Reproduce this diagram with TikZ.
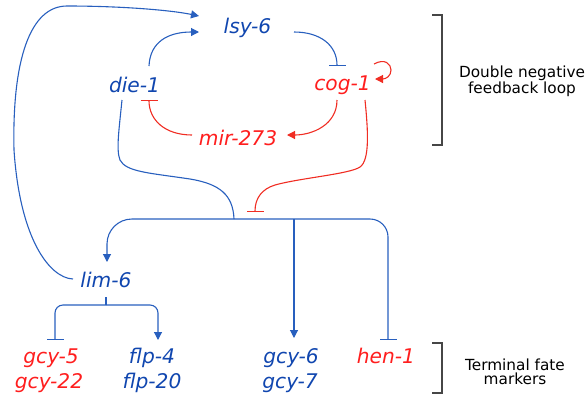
\documentclass[tikz,border=0pt]{standalone}
\usepackage{fontspec}
\setmainfont{DejaVu Sans}
\usetikzlibrary{arrows.meta,calc}
\definecolor{gblue}{RGB}{16,70,175}
\definecolor{lblue}{RGB}{40,95,190}
\definecolor{gred}{RGB}{255,30,30}
\definecolor{lred}{RGB}{240,45,35}
\definecolor{brk}{RGB}{70,70,70}
\begin{document}
\begin{tikzpicture}[x=1pt,y=-1pt,
  gene/.style={font=\fontsize{20.2}{23}\selectfont\itshape, inner sep=0pt, anchor=base},
  bg/.style={gene,text=gblue},
  rg/.style={gene,text=gred},
  act/.style={-{Triangle[length=8pt,width=8pt]}},
  inh/.style={-{Bar[width=17pt]}},
  bl/.style={draw=lblue,line width=1.1pt},
  rl/.style={draw=lred,line width=1.1pt},
  note/.style={font=\fontsize{15.3}{13.8}\selectfont, align=center, inner sep=0pt, text=black},
  bracketline/.style={draw=brk,line width=1.5pt}]
\useasboundingbox (0,0) rectangle (586,400);

% genes
\node[bg] (lsy) at (247.5,33) {lsy-6};
\node[bg] (die) at (134.5,92) {die-1};
\node[rg] (cog) at (342.5,90) {cog-1};
\node[rg] (mir) at (238,145) {mir-273};
\node[bg] (lim) at (106,287) {lim-6};
\node[rg] (g5) at (51,363) {gcy-5};
\node[rg] (g22) at (49,388) {gcy-22};
\node[bg] (f4) at (152,363) {flp-4};
\node[bg] (f20) at (152,388) {flp-20};
\node[bg] (g6) at (291,363) {gcy-6};
\node[bg] (g7) at (290,388) {gcy-7};
\node[rg] (hen) at (386,363) {hen-1};

% junctions
\coordinate (jt) at (234,219);
\coordinate (jm) at (294,219);
\coordinate (lb) at (106,305);

% lim-6 -> lsy-6
\draw[bl,act] ($(lim.base)+(-33,-8)$) .. controls (50,278) and (20,240) .. (14,150)
  .. controls (12,60) and (30,6) .. (67,6)
  .. controls (120,6) and (170,10) .. ($(lsy.base)+(-48.5,-17)$);
% die-1 -> lsy-6
\draw[bl,act] ($(die.base)+(14.5,-26)$) .. controls (150,42) and (168,32) .. ($(lsy.base)+(-48.5,-1)$);
% lsy-6 -| cog-1
\draw[bl,inh] ($(lsy.base)+(46.5,-1)$) .. controls (320,32) and (337,45) .. ($(cog.base)+(-5.5,-24)$);
% cog-1 self
\draw[rl,act] ($(cog.base)+(31.5,-26)$) .. controls (385,58) and (391,64) .. (391,70)
  .. controls (391,76) and (386,79) .. ($(cog.base)+(32.5,-11)$);
% cog-1 -> mir-273
\draw[rl,act] ($(cog.base)+(-5.5,10)$) .. controls (337,125) and (312,135) .. ($(mir.base)+(49,-10)$);
% mir-273 -| die-1
\draw[rl,inh] ($(mir.base)+(-46,-10)$) .. controls (165,135) and (149,120) .. ($(die.base)+(14.5,8)$);
% die-1 down to junction
\draw[bl] ($(die.base)+(-12.5,8)$) .. controls (119,130) and (116,150) .. (120,160)
  .. controls (126,172) and (150,173) .. (190,179)
  .. controls (220,184) and (233,195) .. (jt);
% cog-1 down, inhibiting junction
\draw[rl,inh] ($(cog.base)+(22.5,10)$) .. controls (368,130) and (370,160) .. (360,167)
  .. controls (350,174) and (300,178) .. (275,185)
  .. controls (262,189) and (255,198) .. ($(jt)+(21,-7)$);
% junction branches
\draw[bl,act,rounded corners=25pt] (jt) -| ($(lim.base)+(1,-25)$);
\draw[bl,inh,rounded corners=18pt] (jt) -| ($(hen.base)+(2,-23)$);
\draw[bl,act] (jm) -- ($(g6.base)+(3,-25)$);
% lim-6 targets
\draw[bl] ($(lim.base)+(0,10)$) -- (lb);
\draw[bl,inh,rounded corners=8pt] (lb) -| ($(g5.base)+(4,-23)$);
\draw[bl,act,rounded corners=8pt] (lb) -| ($(f4.base)+(6,-23)$);

% brackets and notes
\draw[bracketline] (432,15) -- (442,15) -- (442,145) -- (432,145);
\draw[bracketline] (432,343) -- (442,343) -- (442,393) -- (432,393);
\node[note] (dn) at (522,81) {Double negative\\feedback loop};
\node[note] (tf) at (515,372) {Terminal fate\\markers};
\end{tikzpicture}
\end{document}
